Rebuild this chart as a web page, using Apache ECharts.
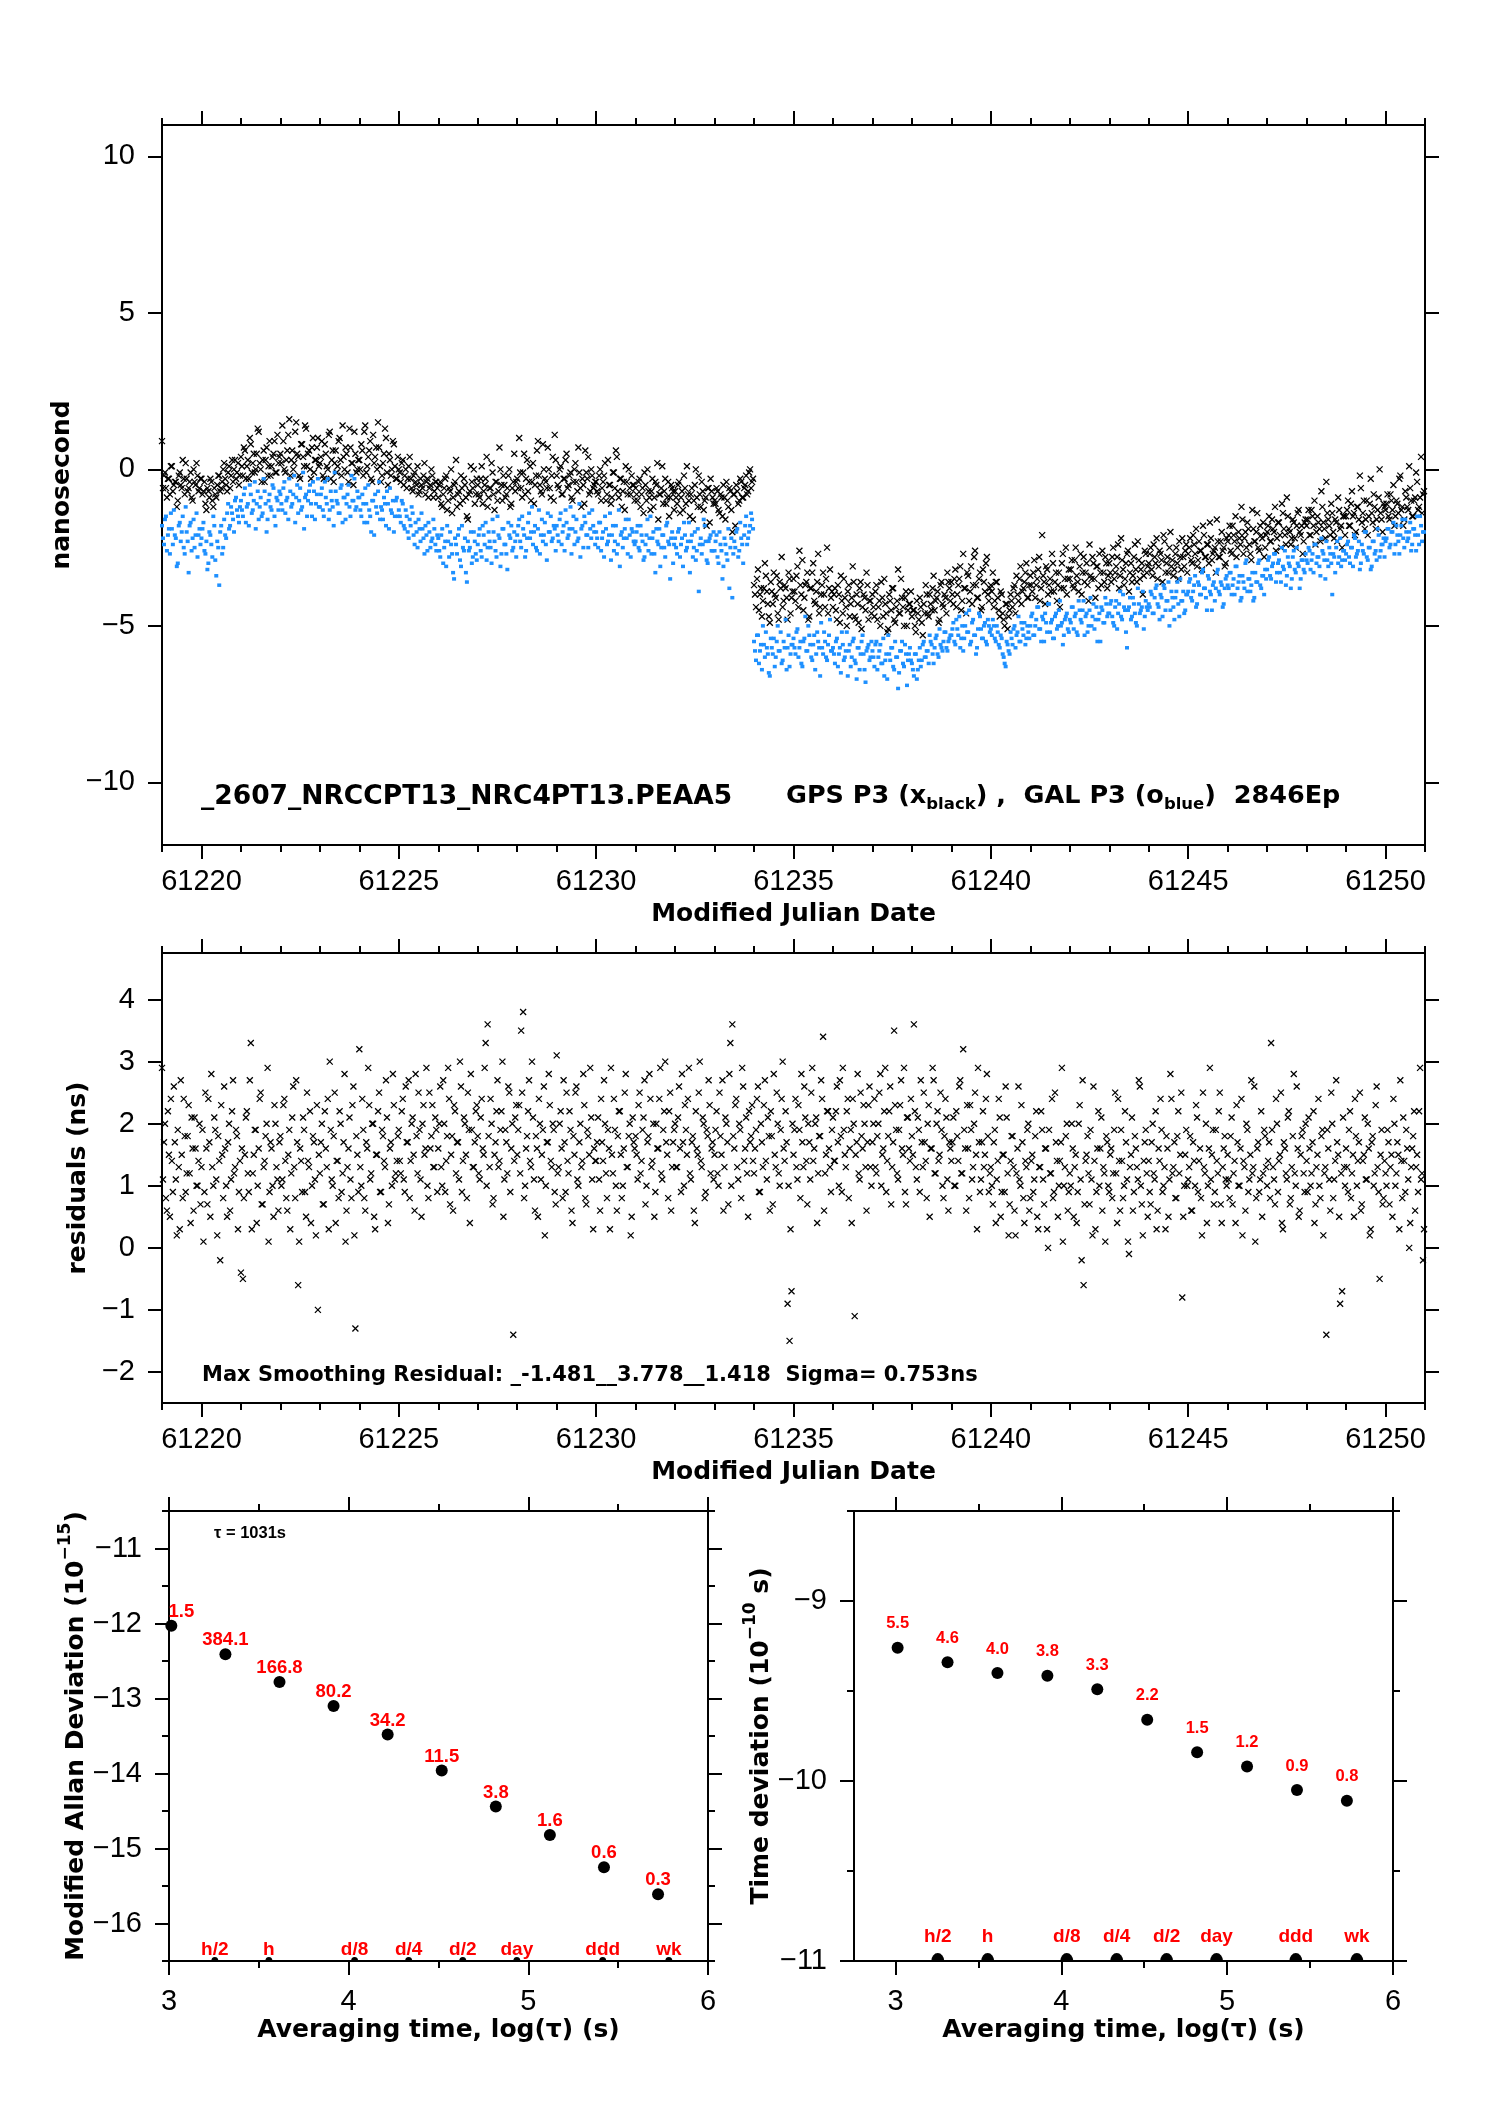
<!DOCTYPE html>
<html>
<head>
<meta charset="utf-8">
<title>NRCCPT13 - NRC4PT13 PEAA5</title>
<script src="https://cdn.jsdelivr.net/npm/echarts@6/dist/echarts.min.js"></script>
<style>
  html, body { margin: 0; padding: 0; background: #fff; }
  #chart { width: 1488px; height: 2105px; }
</style>
</head>
<body>
<div id="chart"></div>
<script>
// epochs: regular sampling in MJD, set B sits half a step after set A
const mjdStart = 61219;
const mjdStep = 0.05;

// GPS P3 clock offset (black x), tenths of ns, one line per day
const gpsTenthsA = [
  9,-2,-6,-3,-8,1,-5,-4,-10,-1,-6,-3,2,-7,-4,-9,0,-5,-2,-6,
  -3,-7,-11,-6,-9,-4,-12,-8,-5,-2,-6,0,-3,-7,1,-2,-4,3,-1,-5,
  4,-2,6,1,-3,8,2,-1,5,12,0,3,-4,7,1,-2,4,9,-1,2,
  5,14,0,3,11,-2,6,2,15,4,-3,8,1,13,5,0,7,-1,3,10,
  2,9,-3,5,0,12,3,-4,6,1,10,-2,4,7,-1,13,2,-5,5,0,
  3,8,-2,14,1,6,-3,11,4,0,7,-4,2,13,-1,5,-2,9,1,-3,
  0,-4,3,-2,-6,1,-3,-7,-1,-5,-8,-3,-6,2,-4,-9,-5,-2,-7,-4,
  -9,-4,-12,-6,-2,-10,-7,-14,-5,3,-8,-11,-6,-3,-9,-16,-7,-4,0,-8,
  -5,-9,1,-7,-3,-12,-6,2,-8,-4,-10,7,-5,-2,-9,-6,0,-11,-4,-7,
  -3,10,-6,-1,-8,3,-4,-10,2,-5,6,-2,-7,8,-3,-6,0,-9,4,11,
  -2,-6,1,-8,-3,5,-5,-1,-10,0,-4,7,-6,-3,-11,-1,4,-7,-2,-5,
  -4,-8,0,-6,-2,-10,3,-5,-9,-1,6,-7,-3,-12,-4,1,-8,-6,-2,-5,
  -6,-10,-3,-8,-14,-5,0,-9,-7,-12,-4,2,-8,-6,-11,-3,-9,-15,-5,-7,
  -7,-11,-4,-9,-13,-6,1,-10,-8,-16,-5,-9,-2,-12,-7,-10,-18,-6,-3,-9,
  -10,-6,-13,-8,-15,-9,-4,-12,-7,-20,-8,-5,-11,-3,-9,-6,-2,-7,0,-4,
  -37,-44,-32,-40,-47,-38,-34,-43,-49,-39,-33,-41,-46,-36,-28,-42,-38,-48,-35,-41,
  -35,-42,-31,-26,-40,-45,-37,-33,-47,-38,-30,-43,-36,-46,-40,-33,-44,-25,-38,-41,
  -44,-38,-48,-40,-34,-46,-41,-50,-37,-43,-31,-47,-40,-49,-36,-44,-41,-33,-48,-42,
  -40,-47,-37,-44,-50,-41,-35,-46,-51,-42,-38,-48,-44,-32,-46,-41,-50,-39,-45,-43,
  -47,-45,-52,-46,-41,-49,-43,-37,-46,-40,-45,-34,-42,-39,-48,-36,-44,-41,-33,-38,
  -36,-43,-32,-40,-35,-45,-27,-38,-33,-42,-31,-37,-26,-41,-35,-45,-32,-39,-28,-42,
  -37,-33,-42,-36,-45,-39,-46,-50,-43,-47,-40,-44,-37,-34,-42,-31,-39,-36,-30,-41,
  -34,-39,-29,-37,-32,-42,-21,-36,-31,-40,-35,-27,-39,-33,-37,-44,-30,-38,-25,-35,
  -35,-29,-38,-25,-36,-31,-40,-28,-33,-37,-24,-35,-30,-41,-31,-27,-37,-33,-28,-38,
  -30,-36,-25,-33,-28,-38,-22,-32,-35,-27,-39,-30,-34,-24,-36,-29,-32,-40,-26,-33,
  -30,-25,-34,-28,-22,-31,-27,-36,-23,-30,-33,-20,-29,-32,-25,-35,-28,-22,-31,-24,
  -27,-22,-30,-24,-19,-29,-26,-32,-21,-28,-24,-17,-29,-26,-33,-23,-28,-20,-25,-30,
  -23,-18,-27,-21,-15,-25,-22,-12,-27,-20,-17,-24,-29,-19,-23,-14,-26,-21,-17,-25,
  -20,-15,-23,-19,-12,-22,-17,-25,-14,-21,-9,-19,-24,-16,-22,-18,-13,-21,-27,-17,
  -18,-13,-21,-15,-10,-20,-17,-23,-12,-19,-4,-16,-21,-14,-22,-17,-9,-19,-25,-15,
  -15,-10,-18,-7,-14,-20,-12,-2,-17,-10,-16,-21,-11,-14,-8,-19,-13,0,-16,-11,
  -13,-8,-16,-10,-5,-15,-11,-3,-13,-18,-7,-12,1,-10,-15,-9,-4,-12,4,-8
];
const gpsTenthsB = [
  -6,-1,-9,-3,1,-7,-4,-12,-2,-5,3,-8,-3,-6,-1,-10,-4,2,-7,-3,
  -8,-4,-13,-7,-3,-10,-6,-9,-2,-7,-4,2,-5,-1,-6,3,0,-3,2,-2,
  1,7,-3,3,10,-1,5,0,13,2,-4,6,3,-2,9,1,5,-1,11,4,
  2,9,-1,6,16,3,0,12,5,-2,8,4,14,1,6,-3,10,3,7,1,
  4,-2,8,1,11,-3,6,2,-1,9,3,14,0,5,-4,7,2,12,-1,3,
  0,6,12,-1,4,9,-4,2,7,15,1,-2,5,10,-5,3,0,8,-3,4,
  -1,2,-5,0,-3,4,-6,-2,-4,1,-7,-5,-2,-8,-3,-6,0,-9,-4,-6,
  -5,-11,-8,-3,-13,-6,0,-9,-4,-12,-7,-2,-10,-5,-15,-8,1,-6,-11,-3,
  -8,-3,-11,-5,4,-9,-6,-1,-13,-4,-7,0,-10,-5,-8,-2,-12,-6,5,-4,
  -6,-1,-9,5,-3,-7,1,-4,-11,-2,9,-5,-8,0,-4,7,-6,-2,-10,3,
  -5,0,-8,-3,3,-6,-2,-9,-4,2,-7,-1,-12,-5,6,-3,-8,0,-6,-4,
  -7,-2,-10,-4,2,-8,-5,-11,-1,-6,4,-9,-3,-7,-13,-4,0,-8,-5,-10,
  -8,-4,-12,-6,-1,-10,-7,-13,-3,-9,-5,-16,-8,1,-7,-11,-4,-9,-6,-13,
  -9,-5,-14,-7,-2,-11,-8,-15,-6,-10,0,-12,-8,-4,-13,-9,-6,-17,-7,-11,
  -11,-7,-14,-9,-5,-16,-10,-6,-13,-8,-18,-7,-10,-4,-9,-5,-8,-1,-6,-3,
  -40,-35,-45,-38,-42,-30,-39,-47,-36,-43,-40,-34,-48,-38,-44,-37,-41,-33,-46,-39,
  -39,-34,-44,-37,-29,-41,-36,-48,-38,-33,-42,-39,-27,-44,-37,-40,-35,-46,-32,-39,
  -40,-45,-37,-49,-42,-35,-44,-39,-47,-41,-36,-48,-43,-38,-51,-40,-45,-37,-42,-46,
  -44,-39,-48,-42,-36,-47,-43,-52,-40,-45,-38,-49,-42,-46,-35,-44,-41,-50,-43,-39,
  -45,-50,-42,-48,-44,-53,-46,-40,-47,-43,-38,-45,-41,-49,-37,-43,-40,-46,-36,-42,
  -40,-35,-44,-37,-31,-42,-38,-46,-34,-39,-43,-28,-37,-41,-33,-44,-36,-30,-40,-38,
  -39,-44,-36,-41,-47,-40,-48,-43,-51,-45,-42,-38,-46,-40,-35,-43,-38,-33,-41,-37,
  -37,-33,-41,-35,-28,-38,-34,-43,-32,-37,-39,-30,-36,-42,-33,-38,-27,-35,-40,-32,
  -32,-37,-29,-34,-39,-27,-33,-36,-30,-42,-34,-28,-35,-31,-38,-33,-26,-36,-30,-34,
  -33,-28,-35,-31,-24,-34,-29,-37,-30,-26,-33,-36,-28,-32,-23,-35,-30,-34,-27,-31,
  -27,-32,-24,-30,-35,-26,-29,-21,-33,-28,-25,-31,-34,-27,-30,-23,-32,-28,-26,-33,
  -25,-29,-21,-27,-31,-23,-26,-18,-28,-24,-30,-22,-27,-25,-16,-28,-23,-26,-31,-22,
  -21,-26,-18,-23,-28,-20,-24,-16,-22,-25,-19,-27,-13,-23,-20,-25,-18,-22,-28,-21,
  -18,-23,-16,-20,-26,-17,-21,-11,-19,-24,-15,-20,-22,-17,-25,-14,-20,-18,-23,-16,
  -16,-21,-13,-18,-24,-15,-19,-7,-17,-22,-14,-18,-11,-20,-16,-23,-13,-18,-15,-21,
  -13,-18,-11,-15,-21,-12,-16,-6,-14,-19,-10,-15,-3,-17,-12,-16,-9,-14,-20,-12,
  -11,-15,-8,-13,-18,-10,-14,-2,-12,-16,-9,-13,-6,-15,-10,-1,-13,-9,-14,-7
];

// GAL P3 clock offset (blue), tenths of ns
const galTenthsA = [
  -18,-24,-15,-21,-27,-19,-13,-22,-30,-17,-20,-25,-12,-23,-18,-26,-16,-21,-28,-19,
  -22,-17,-27,-32,-20,-24,-15,-29,-23,-37,-18,-25,-21,-14,-19,-12,-16,-10,-13,-17,
  -10,-15,-6,-12,-18,-8,-13,-4,-11,-16,-9,-14,-7,-20,-10,-12,-5,-15,-9,-13,
  -8,-13,-4,-10,-16,-7,-11,-2,-9,-14,-6,-12,-19,-8,-10,-5,-15,-7,-11,-3,
  -12,-6,-15,-9,-3,-13,-10,-18,-7,-11,-14,-5,-9,-16,-8,-12,-2,-10,-13,-7,
  -9,-15,-11,-6,-17,-13,-20,-10,-8,-14,-4,-12,-16,-11,-7,-19,-13,-10,-15,-9,
  -13,-17,-11,-19,-15,-22,-18,-14,-24,-20,-16,-23,-19,-27,-21,-17,-25,-22,-19,-26,
  -22,-28,-19,-25,-31,-23,-20,-27,-35,-24,-21,-29,-18,-26,-33,-23,-25,-30,-20,-27,
  -24,-19,-28,-21,-17,-25,-23,-30,-20,-26,-15,-22,-27,-19,-24,-32,-21,-18,-25,-23,
  -21,-16,-25,-19,-28,-22,-14,-20,-24,-18,-26,-13,-21,-23,-17,-29,-20,-15,-22,-19,
  -18,-23,-14,-20,-26,-17,-21,-12,-19,-24,-16,-22,-28,-18,-15,-21,-25,-19,-13,-20,
  -20,-25,-17,-22,-28,-19,-23,-14,-21,-26,-18,-24,-31,-20,-22,-16,-27,-21,-19,-23,
  -23,-18,-26,-21,-29,-24,-16,-22,-27,-20,-33,-23,-19,-25,-21,-28,-17,-24,-22,-30,
  -22,-27,-19,-24,-31,-21,-25,-17,-23,-28,-20,-26,-39,-22,-24,-18,-29,-23,-21,-26,
  -26,-21,-30,-24,-35,-22,-27,-19,-25,-41,-23,-20,-28,-17,-24,-21,-15,-22,-18,-16,
  -55,-61,-53,-58,-64,-56,-52,-59,-66,-57,-54,-60,-50,-58,-62,-55,-48,-57,-63,-56,
  -54,-59,-51,-57,-62,-55,-47,-58,-53,-60,-56,-64,-52,-57,-49,-59,-55,-61,-53,-58,
  -57,-62,-54,-59,-65,-56,-60,-52,-58,-63,-55,-61,-67,-57,-59,-53,-64,-58,-56,-60,
  -58,-63,-55,-60,-56,-62,-66,-59,-53,-61,-57,-64,-60,-70,-58,-55,-63,-59,-61,-57,
  -62,-66,-59,-64,-57,-61,-55,-60,-58,-53,-56,-62,-54,-59,-51,-57,-55,-52,-58,-54,
  -53,-49,-56,-51,-47,-54,-58,-50,-52,-45,-55,-48,-53,-57,-46,-51,-54,-49,-56,-50,
  -51,-48,-54,-50,-56,-53,-59,-62,-55,-58,-52,-56,-50,-53,-47,-55,-51,-49,-54,-52,
  -50,-46,-53,-48,-44,-51,-47,-55,-49,-43,-52,-48,-54,-46,-50,-42,-49,-53,-47,-51,
  -48,-44,-51,-46,-53,-45,-49,-42,-47,-52,-45,-50,-43,-48,-55,-46,-44,-49,-41,-47,
  -46,-42,-49,-44,-51,-43,-47,-40,-45,-57,-44,-48,-41,-46,-50,-43,-45,-39,-47,-44,
  -43,-39,-46,-41,-37,-44,-40,-47,-38,-42,-36,-45,-41,-48,-39,-43,-35,-42,-46,-40,
  -39,-35,-42,-37,-44,-36,-40,-33,-38,-41,-34,-39,-45,-36,-38,-32,-40,-37,-43,-35,
  -37,-33,-40,-35,-31,-38,-34,-41,-36,-30,-39,-35,-37,-42,-33,-36,-29,-38,-34,-32,
  -32,-28,-35,-30,-27,-33,-29,-36,-31,-26,-34,-30,-38,-28,-32,-25,-31,-35,-29,-33,
  -29,-25,-32,-27,-24,-30,-28,-34,-26,-29,-23,-31,-27,-40,-28,-25,-30,-22,-29,-26,
  -27,-23,-30,-25,-21,-28,-26,-32,-24,-27,-20,-29,-25,-31,-23,-26,-19,-28,-24,-22,
  -23,-19,-25,-20,-17,-24,-21,-27,-18,-22,-16,-23,-20,-26,-19,-21,-15,-24,-18,-20
];
const galTenthsB = [
  -22,-16,-26,-19,-14,-24,-21,-31,-18,-23,-15,-27,-20,-33,-17,-22,-25,-14,-21,-24,
  -19,-26,-23,-30,-21,-28,-18,-34,-25,-20,-27,-16,-22,-11,-18,-14,-20,-9,-15,-12,
  -13,-8,-17,-11,-5,-14,-10,-19,-7,-12,-15,-3,-11,-16,-8,-13,-6,-18,-10,-7,
  -11,-6,-14,-9,-3,-12,-8,-17,-5,-10,-13,-1,-9,-15,-7,-11,-4,-16,-8,-12,
  -8,-13,-4,-11,-16,-7,-12,-1,-10,-14,-6,-17,-9,-11,-5,-15,-10,-3,-12,-9,
  -13,-8,-17,-11,-5,-15,-10,-21,-12,-7,-16,-13,-9,-18,-11,-6,-14,-20,-10,-15,
  -15,-10,-18,-13,-20,-16,-12,-21,-17,-25,-19,-14,-22,-18,-26,-20,-23,-16,-24,-21,
  -26,-21,-30,-23,-18,-28,-24,-33,-22,-27,-19,-31,-25,-22,-36,-26,-20,-28,-23,-29,
  -21,-26,-18,-24,-29,-20,-25,-16,-23,-28,-21,-31,-19,-24,-27,-17,-22,-26,-20,-28,
  -18,-23,-15,-21,-26,-17,-22,-12,-20,-25,-19,-27,-16,-21,-24,-14,-20,-23,-18,-26,
  -21,-16,-24,-18,-13,-22,-19,-27,-15,-20,-23,-11,-19,-25,-17,-21,-14,-22,-18,-24,
  -22,-17,-26,-20,-15,-24,-21,-29,-18,-23,-27,-13,-21,-25,-19,-22,-16,-28,-20,-24,
  -20,-25,-18,-23,-28,-21,-26,-15,-22,-27,-19,-24,-31,-21,-25,-18,-23,-35,-20,-24,
  -25,-20,-28,-22,-17,-26,-23,-33,-21,-25,-29,-19,-24,-27,-16,-23,-30,-22,-26,-20,
  -23,-28,-20,-26,-31,-24,-29,-38,-22,-27,-25,-19,-26,-22,-30,-18,-24,-20,-14,-19,
  -58,-53,-62,-56,-50,-60,-57,-65,-54,-59,-63,-55,-58,-52,-61,-57,-64,-53,-59,-56,
  -57,-52,-60,-55,-63,-54,-58,-50,-56,-61,-53,-59,-55,-66,-57,-52,-60,-56,-48,-58,
  -59,-55,-63,-57,-52,-61,-58,-66,-56,-60,-54,-62,-57,-64,-55,-59,-68,-57,-61,-55,
  -60,-56,-64,-58,-62,-54,-61,-67,-59,-57,-63,-55,-60,-65,-58,-62,-56,-69,-59,-61,
  -64,-59,-67,-61,-63,-56,-60,-58,-62,-55,-59,-57,-53,-60,-56,-58,-52,-57,-55,-53,
  -51,-55,-48,-53,-57,-50,-54,-46,-52,-56,-49,-53,-59,-51,-47,-54,-50,-55,-48,-52,
  -53,-50,-55,-52,-57,-54,-60,-63,-56,-59,-54,-51,-57,-52,-55,-49,-53,-56,-50,-54,
  -47,-53,-50,-44,-51,-55,-48,-46,-52,-43,-49,-54,-47,-51,-45,-50,-56,-48,-46,-52,
  -49,-44,-47,-52,-42,-48,-45,-53,-46,-50,-41,-47,-51,-44,-48,-55,-45,-49,-43,-46,
  -43,-47,-50,-42,-46,-39,-48,-44,-52,-45,-41,-47,-43,-49,-38,-46,-44,-51,-42,-45,
  -44,-40,-46,-38,-43,-48,-41,-37,-45,-42,-50,-39,-44,-41,-36,-47,-42,-39,-45,-40,
  -36,-41,-39,-34,-43,-37,-40,-32,-38,-45,-35,-40,-37,-42,-33,-39,-36,-44,-38,-34,
  -38,-33,-37,-40,-31,-36,-42,-34,-38,-29,-35,-39,-33,-41,-36,-30,-37,-34,-40,-35,
  -29,-34,-31,-27,-36,-30,-33,-25,-32,-37,-28,-31,-35,-26,-33,-30,-38,-29,-32,-27,
  -30,-26,-29,-33,-24,-28,-31,-22,-27,-35,-29,-25,-30,-27,-33,-23,-28,-31,-26,-29,
  -24,-28,-25,-31,-22,-27,-23,-30,-26,-20,-28,-25,-32,-23,-27,-29,-21,-26,-24,-28,
  -22,-19,-24,-20,-27,-18,-23,-21,-16,-25,-20,-22,-17,-24,-19,-26,-21,-15,-23,-20
];

// smoothing residuals, tenths of ns
const residTenthsA = [
  29,17,8,22,5,14,26,11,19,3,15,24,9,18,12,21,6,16,10,20,
  13,1,25,7,17,28,10,19,2,14,23,8,16,5,20,11,27,13,18,9,
  -4,-5,15,22,9,33,12,19,4,16,25,7,14,20,1,17,10,23,13,6,
  18,11,24,8,15,3,21,13,27,-6,16,9,19,5,14,22,10,17,2,-10,
  12,20,7,16,24,30,11,18,4,14,22,9,17,1,13,21,8,26,-13,15,
  32,10,19,6,16,23,12,20,3,15,25,9,18,13,21,7,17,28,11,14,
  19,12,24,9,17,27,14,21,6,18,25,11,20,15,29,8,16,23,13,19,
  16,26,10,20,14,29,7,18,23,12,17,30,9,21,15,25,4,19,13,22,
  18,11,24,15,33,36,13,20,8,17,27,14,22,5,19,12,25,16,-14,21,
  15,23,35,38,10,18,27,13,21,6,16,24,11,19,2,17,28,14,20,9,
  31,13,22,8,17,25,12,19,4,15,26,10,20,14,23,7,18,29,11,16,
  14,21,6,17,27,12,19,3,15,24,10,18,22,8,16,28,13,20,5,17,
  18,11,25,14,21,7,17,28,13,20,9,16,24,12,19,30,15,22,6,17,
  20,13,26,9,17,23,15,29,11,18,4,16,25,14,21,8,19,27,12,17,
  15,22,10,18,27,13,20,7,33,36,16,24,11,19,29,14,21,5,17,23,
  12,19,26,9,17,23,14,21,6,18,28,13,20,10,24,16,22,-9,-15,-7,
  15,24,11,19,28,13,21,7,17,25,14,20,4,18,27,34,12,22,16,9,
  21,14,26,10,18,29,15,22,8,19,24,-11,17,12,25,16,20,6,23,13,
  17,24,12,20,28,15,22,9,18,26,13,35,19,11,23,16,29,7,21,14,
  18,36,13,21,9,17,25,14,20,5,16,27,12,22,15,19,8,24,11,17,
  14,21,10,18,26,12,32,16,23,8,19,13,25,3,17,11,22,15,28,9,
  13,7,19,11,24,5,15,9,21,2,14,18,6,12,26,10,17,4,13,20,
  8,15,11,22,3,13,19,7,16,0,12,24,9,17,5,14,29,10,18,6,
  12,20,5,15,9,23,-2,-6,14,18,7,11,26,3,16,10,21,13,1,17,
  9,16,12,25,4,14,19,8,22,11,-1,15,6,18,13,27,10,2,17,12,
  14,7,20,11,3,16,24,9,13,18,5,28,12,17,8,22,15,-8,10,19,
  11,18,6,14,23,9,16,2,13,20,10,29,15,7,19,12,25,4,16,11,
  15,8,21,12,4,17,10,24,14,6,19,11,27,13,1,16,9,22,12,18,
  10,17,33,13,7,20,14,25,3,16,11,22,8,18,12,26,5,15,19,9,
  14,21,10,17,4,13,24,8,19,12,-14,16,6,20,11,27,15,-9,-7,13,
  16,9,22,12,5,18,14,25,7,15,11,20,2,17,10,23,13,-5,19,8,
  12,19,7,15,24,10,17,3,14,21,9,16,0,13,18,6,15,22,11,-2
];
const residTenthsB = [
  11,20,6,15,24,9,17,2,13,27,8,18,12,23,4,16,21,10,14,7,
  19,9,16,24,5,13,21,11,18,-2,15,26,10,17,6,22,12,19,3,14,
  16,8,21,12,27,3,15,19,10,24,7,13,18,29,9,16,5,20,11,17,
  10,23,14,6,19,12,26,8,17,1,14,21,9,25,13,4,18,11,23,15,
  17,7,22,13,3,19,10,25,14,8,20,12,28,6,16,11,23,2,18,9,
  13,24,8,17,29,11,20,5,15,22,9,19,14,27,4,16,10,23,12,18,
  14,22,11,26,17,8,20,15,28,12,19,5,23,16,10,25,18,13,21,9,
  20,13,27,9,18,24,15,6,22,17,11,26,14,20,8,19,28,13,17,23,
  12,21,16,29,10,18,24,7,15,22,13,19,30,11,17,26,9,20,14,23,
  19,12,25,8,16,22,14,30,11,18,5,20,15,26,10,17,23,13,19,7,
  12,20,16,27,9,14,22,6,18,25,11,17,13,28,8,19,15,21,3,14,
  17,11,24,14,20,8,16,29,12,19,6,22,15,10,25,13,18,2,21,16,
  15,23,12,19,27,10,18,24,14,5,20,16,29,11,22,17,8,25,13,19,
  13,21,16,28,10,19,24,12,17,6,22,15,30,13,20,9,18,23,16,11,
  19,12,25,15,6,21,17,28,10,18,23,13,20,8,26,16,12,22,18,14,
  16,24,9,20,13,27,11,18,22,7,15,25,12,19,30,14,17,10,3,20,
  19,13,23,8,17,26,14,20,11,29,16,21,12,18,24,6,15,22,13,19,
  14,22,17,27,9,19,13,24,16,4,20,15,28,11,18,23,13,17,26,10,
  20,13,18,25,10,16,29,14,22,7,17,23,12,19,27,15,9,21,16,24,
  15,22,11,19,27,13,17,8,23,16,29,12,20,14,25,10,18,21,6,16,
  17,10,22,14,27,12,19,6,16,23,11,20,15,29,9,17,13,24,18,12,
  10,17,4,14,21,9,15,26,12,7,18,13,2,16,11,23,8,14,19,6,
  14,9,18,5,13,22,11,16,3,19,12,8,25,14,10,17,1,13,20,9,
  10,16,13,4,20,11,27,7,15,12,19,2,14,9,22,16,6,12,18,10,
  15,8,19,12,24,6,14,10,17,1,13,21,9,16,11,26,7,14,19,5,
  9,17,12,22,6,14,19,10,3,16,11,24,13,8,18,12,25,5,15,10,
  13,6,17,10,21,14,8,25,12,4,16,11,19,9,14,22,7,13,18,10,
  11,18,7,14,23,10,16,2,13,20,9,15,12,26,8,17,11,5,19,13,
  14,8,19,11,24,9,15,4,17,12,21,7,13,28,10,16,6,18,12,20,
  9,16,12,22,7,15,10,18,2,13,19,11,25,8,14,17,5,12,21,10,
  13,19,8,15,24,10,17,6,14,21,11,16,3,18,12,26,9,15,7,14,
  10,17,13,5,20,12,15,27,8,14,19,11,4,16,22,13,9,29,12,3
];

// stability plots, x = log10(tau)
const logTau = [3.013, 3.314, 3.615, 3.916, 4.217, 4.518, 4.819, 5.120, 5.421, 5.722];
const modAdev = [-12.03, -12.41, -12.78, -13.10, -13.48, -13.96, -14.44, -14.82, -15.25, -15.61];
const modAdevLabels = ['1.5', '384.1', '166.8', '80.2', '34.2', '11.5', '3.8', '1.6', '0.6', '0.3'];
const timeDev = [-9.26, -9.34, -9.40, -9.415, -9.49, -9.66, -9.84, -9.92, -10.05, -10.11];
const timeDevLabels = ['5.5', '4.6', '4.0', '3.8', '3.3', '2.2', '1.5', '1.2', '0.9', '0.8'];
const markNames = ['h/2', 'h', 'd/8', 'd/4', 'd/2', 'day', 'ddd', 'wk'];
const markLogTau = [3.255, 3.556, 4.033, 4.334, 4.635, 4.936, 5.414, 5.782];

// tick positions
const mjdMajor = [61220, 61225, 61230, 61235, 61240, 61245, 61250];
const mjdMinor = [61219, 61221, 61222, 61223, 61224, 61226, 61227, 61228, 61229, 61231, 61232,
  61233, 61234, 61236, 61237, 61238, 61239, 61241, 61242, 61243, 61244, 61246, 61247, 61248, 61249, 61251];
const nsTicks = [-10, -5, 0, 5, 10];
const residTicks = [-2, -1, 0, 1, 2, 3, 4];
const logMajor = [3, 4, 5, 6];
const logMinor = [3.5, 4.5, 5.5];
const madevMajor = [-16, -15, -14, -13, -12, -11];
const madevMinor = [-16.5, -15.5, -14.5, -13.5, -12.5, -11.5, -10.5];
const tdevMajor = [-11, -10, -9];
const tdevMinor = [-10.5, -9.5, -8.5];

const black = '#000';
const red = '#ff0000';
const tickFont = 'Liberation Sans';
const boldFont = 'DejaVu Sans';
const xMark = 'path://M0,0L10,10M10,0L0,10';
const halfDot = 'path://M0,10A10,10 0 0 1 20,10Z';

function fmt(v) {
  return String(v).replace('-', '\u2212');
}

function toPoints(tenthsA, tenthsB) {
  const pts = tenthsA.map((v, i) => [mjdStart + i * mjdStep, v / 10]);
  tenthsB.forEach((v, i) => pts.push([mjdStart + (i + 0.5) * mjdStep, v / 10]));
  return pts;
}

const xAxes = [];
const yAxes = [];

// one frame side = main axis (line, long ticks, labels) + overlay axis for short ticks
function addAxes(list, dim, grid, min, max, major, minor, opt) {
  const sides = dim === 'x' ? ['bottom', 'top'] : ['left', 'right'];
  const mainIndex = list.length;
  sides.forEach((side, s) => {
    [major, minor].forEach((ticks, k) => {
      if (!ticks.length) return;
      const axis = {
        type: 'value', gridIndex: grid, position: side, min: min, max: max,
        splitLine: { show: false },
        axisLine: { show: k === 0, onZero: false, lineStyle: { color: black, width: 2 } },
        axisTick: { show: true, customValues: ticks, length: k === 0 ? 14 : 7, lineStyle: { color: black, width: 2 } },
        axisLabel: { show: false },
        silent: true
      };
      if (s === 0 && k === 0) {
        axis.axisLabel = {
          show: true, customValues: ticks, formatter: fmt, margin: opt.margin,
          fontSize: 29, fontFamily: tickFont, color: black
        };
        axis.name = opt.name;
        axis.nameLocation = 'middle';
        axis.nameGap = opt.nameGap;
        axis.nameTextStyle = Object.assign({
          fontFamily: boldFont, fontWeight: 'bold', fontSize: 25, color: black
        }, opt.nameStyle || {});
        if (dim === 'y') axis.nameRotate = 90;
      }
      list.push(axis);
    });
  });
  return mainIndex;
}

const supRich = {
  t: { fontFamily: boldFont, fontWeight: 'bold', fontSize: 25, lineHeight: 32, verticalAlign: 'bottom', color: black },
  sup: { fontFamily: boldFont, fontWeight: 'bold', fontSize: 17, lineHeight: 17, verticalAlign: 'top', color: black }
};

const mjdX = { margin: 22, name: 'Modified Julian Date', nameGap: 57 };
const x0 = addAxes(xAxes, 'x', 0, 61219, 61251, mjdMajor, mjdMinor, mjdX);
const y0 = addAxes(yAxes, 'y', 0, -12, 11, nsTicks, [], { margin: 27, name: 'nanosecond', nameGap: 68 });
const x1 = addAxes(xAxes, 'x', 1, 61219, 61251, mjdMajor, mjdMinor, mjdX);
const y1 = addAxes(yAxes, 'y', 1, -2.5, 4.75, residTicks, [], { margin: 27, name: 'residuals (ns)', nameGap: 52 });
const x2 = addAxes(xAxes, 'x', 2, 3, 6, logMajor, logMinor,
  { margin: 26, name: 'Averaging time, log(\u03c4) (s)', nameGap: 57 });
const y2 = addAxes(yAxes, 'y', 2, -16.5, -10.5, madevMajor, madevMinor,
  { margin: 27, name: '{t|Modified Allan Deviation (10}{sup|\u221215}{t|)}', nameGap: 74, nameStyle: { rich: supRich } });
const x3 = addAxes(xAxes, 'x', 3, 2.75, 6, logMajor, logMinor,
  { margin: 26, name: 'Averaging time, log(\u03c4) (s)', nameGap: 57 });
const y3 = addAxes(yAxes, 'y', 3, -11, -8.5, tdevMajor, tdevMinor,
  { margin: 27, name: '{t|Time deviation (10}{sup|\u221210}{t| s)}', nameGap: 69, nameStyle: { rich: supRich } });

function redLabel(names, size, dy) {
  return {
    show: true, position: 'inside', offset: [0, dy],
    formatter: p => names[p.dataIndex],
    color: red, fontSize: size, fontWeight: 'bold', fontFamily: tickFont
  };
}

const madevData = logTau.map((x, i) => i === 0
  ? { value: [x, modAdev[i]], label: { offset: [10, -14] } }
  : [x, modAdev[i]]);

const crossStyle = { color: 'rgba(0,0,0,0)', borderColor: black, borderWidth: 1.25, opacity: 1 };
const dotStyle = { color: black, opacity: 1 };

const chart = echarts.init(document.getElementById('chart'));
chart.setOption({
  animation: false,
  backgroundColor: '#fff',
  grid: [
    { left: 162, top: 125, width: 1263, height: 720, containLabel: false, outerBoundsMode: 'none' },
    { left: 162, top: 953, width: 1263, height: 450, containLabel: false, outerBoundsMode: 'none' },
    { left: 169, top: 1511, width: 539, height: 450, containLabel: false, outerBoundsMode: 'none' },
    { left: 854, top: 1511, width: 539, height: 450, containLabel: false, outerBoundsMode: 'none' }
  ],
  xAxis: xAxes,
  yAxis: yAxes,
  graphic: [
    {
      type: 'text', x: 201, y: 797, silent: true,
      style: {
        text: '_2607_NRCCPT13_NRC4PT13.PEAA5', fill: black,
        font: 'bold 26.5px "DejaVu Sans"', verticalAlign: 'middle'
      }
    },
    {
      type: 'text', x: 786, y: 798.5, silent: true,
      style: {
        text: '{t|GPS P3 (x}{s|black}{t|) ,  GAL P3 (o}{s|blue}{t|)  2846Ep}',
        fill: black, verticalAlign: 'middle',
        rich: {
          t: { font: 'bold 25.5px "DejaVu Sans"', lineHeight: 30, verticalAlign: 'top' },
          s: { font: 'bold 16.5px "DejaVu Sans"', lineHeight: 17, verticalAlign: 'bottom', padding: [16, 0, 0, 0] }
        }
      }
    },
    {
      type: 'text', x: 202, y: 1376, silent: true,
      style: {
        text: 'Max Smoothing Residual: _-1.481__3.778__1.418  Sigma= 0.753ns', fill: black,
        font: 'bold 21px "DejaVu Sans"', verticalAlign: 'middle'
      }
    },
    {
      type: 'text', x: 214, y: 1533, silent: true,
      style: {
        text: '\u03c4 = 1031s', fill: black,
        font: 'bold 16.5px "Liberation Sans"', verticalAlign: 'middle'
      }
    }
  ],
  series: [
    {
      type: 'scatter', name: 'GPS P3', xAxisIndex: x0, yAxisIndex: y0, silent: true,
      data: toPoints(gpsTenthsA, gpsTenthsB),
      symbol: xMark, symbolSize: 6, itemStyle: crossStyle
    },
    {
      type: 'scatter', name: 'GAL P3', xAxisIndex: x0, yAxisIndex: y0, silent: true,
      data: toPoints(galTenthsA, galTenthsB),
      symbol: 'rect', symbolSize: [4, 3.5],
      itemStyle: { color: '#1e90ff', opacity: 1 }
    },
    {
      type: 'scatter', name: 'residuals', xAxisIndex: x1, yAxisIndex: y1, silent: true,
      data: toPoints(residTenthsA, residTenthsB),
      symbol: xMark, symbolSize: 6, itemStyle: crossStyle
    },
    {
      type: 'scatter', name: 'MDEV', xAxisIndex: x2, yAxisIndex: y2, silent: true, clip: false,
      data: madevData, symbol: 'circle', symbolSize: 12, itemStyle: dotStyle,
      label: redLabel(modAdevLabels, 18.5, -14)
    },
    {
      type: 'scatter', name: 'MDEV marks', xAxisIndex: x2, yAxisIndex: y2, silent: true, clip: false,
      data: markLogTau.map(x => [x, -16.473]), symbol: halfDot, symbolSize: [7, 4], itemStyle: dotStyle,
      label: redLabel(markNames, 19, -9)
    },
    {
      type: 'scatter', name: 'TDEV', xAxisIndex: x3, yAxisIndex: y3, silent: true, clip: false,
      data: logTau.map((x, i) => [x, timeDev[i]]), symbol: 'circle', symbolSize: 12, itemStyle: dotStyle,
      label: redLabel(timeDevLabels, 16.5, -24)
    },
    {
      type: 'scatter', name: 'TDEV marks', xAxisIndex: x3, yAxisIndex: y3, silent: true, clip: false,
      data: markLogTau.map(x => [x, -10.978]), symbol: halfDot, symbolSize: [13, 8], itemStyle: dotStyle,
      label: redLabel(markNames, 19, -20)
    }
  ]
});
</script>
</body>
</html>
